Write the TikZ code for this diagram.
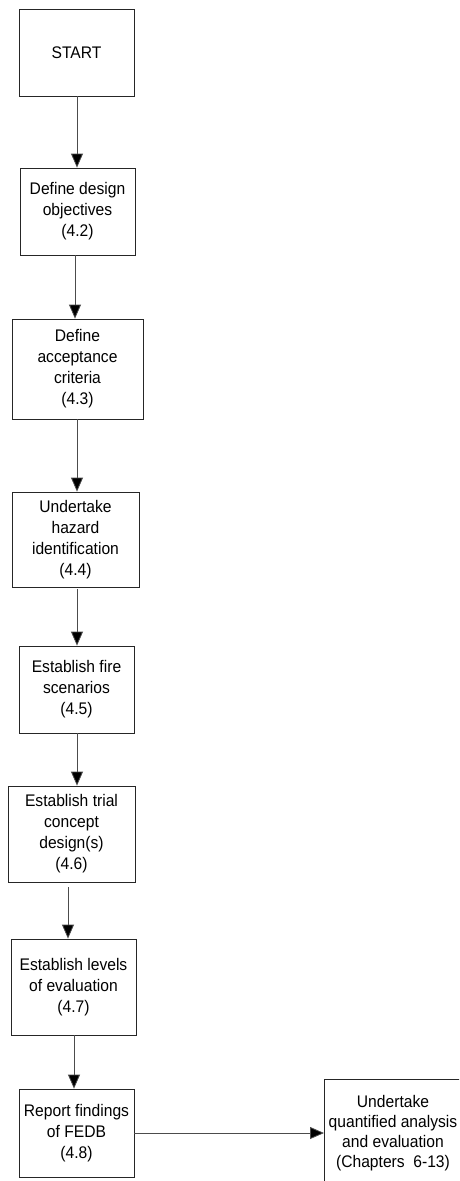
\documentclass[tikz,border=0pt]{standalone}
\usepackage{fontspec}
\setmainfont{Liberation Sans}[FakeStretch=0.93]
\usetikzlibrary{arrows.meta,calc}
\begin{document}
\begin{tikzpicture}[x=1pt,y=-1pt,
  box/.style={draw=black!85,line width=0.8pt,inner sep=0pt,align=center,
    font=\fontsize{16.8}{21}\selectfont},
  txt/.style={inner sep=0pt,align=center,font=\fontsize{16.8}{20}\selectfont},
  arr/.style={draw=black!70,line width=0.8pt,-{Triangle[width=12pt,length=14pt,fill=black]}}]
\useasboundingbox (0,0) rectangle (459,1181);
\clip (0,0) rectangle (459,1181);
\node[box,minimum width=115pt,minimum height=87pt] (b1) at (76.5,52.5) {START};
\node[box,minimum width=115pt,minimum height=87pt] (b2) at (77.5,211.5) {Define design\\objectives\\(4.2)};
\node[box,minimum width=131pt,minimum height=100pt] (b3) at (77.5,369) {Define\\acceptance\\criteria\\(4.3)};
\node[box,minimum width=127pt,minimum height=95pt] (b4) at (75.5,539.5) {Undertake\\hazard\\identification\\(4.4)};
\node[box,minimum width=115pt,minimum height=87pt] (b5) at (76.5,689.5) {Establish fire\\scenarios\\(4.5)};
\node[box,minimum width=127pt,minimum height=96pt] (b6) at (71.5,834) {Establish trial\\concept\\design(s)\\(4.6)};
\node[box,minimum width=125pt,minimum height=96pt] (b7) at (73.5,987) {Establish levels\\of evaluation\\(4.7)};
\node[box,minimum width=115pt,minimum height=88pt] (b8) at (76.5,1133) {Report findings\\of FEDB\\(4.8)};
\node[box,anchor=north west,minimum width=170pt,minimum height=110pt] (b9) at (324,1079) {};
\node[txt] (b9t) at (393,1133) {Undertake\\quantified analysis\\and evaluation\\(Chapters\ \ 6-13)};
\coordinate (x1) at (77,0);
\coordinate (x2) at (75,0);
\coordinate (x3) at (77,0);
\coordinate (x4) at (77,0);
\coordinate (x5) at (77,0);
\coordinate (x6) at (68,0);
\coordinate (x7) at (74,0);
\draw[arr] (b1.south -| x1) -- (b2.north -| x1);
\draw[arr] (b2.south -| x2) -- (b3.north -| x2);
\draw[arr] (b3.south -| x3) -- (b4.north -| x3);
\draw[arr] ([yshift=-2pt]b4.south -| x4) -- (b5.north -| x4);
\draw[arr] (b5.south -| x5) -- (b6.north -| x5);
\draw[arr] ([yshift=-5pt]b6.south -| x6) -- (b7.north -| x6);
\draw[arr] (b7.south -| x7) -- (b8.north -| x7);
\draw[arr] (b8.east) -- (b8.east -| b9.west);
\end{tikzpicture}
\end{document}
